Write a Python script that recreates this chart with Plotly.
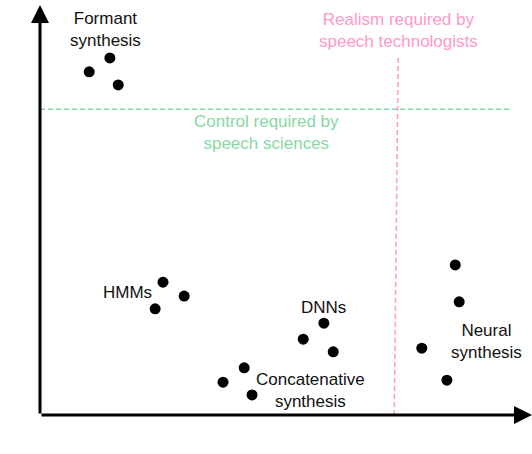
import plotly.graph_objects as go

# Data (realism, control) on an abstract 0-10 scale
formant_x = [1.0, 1.42, 1.59]
formant_y = [8.37, 8.71, 8.05]
hmm_x = [2.50, 2.93, 2.34]
hmm_y = [3.24, 2.90, 2.59]
dnn_x = [5.77, 5.35, 5.96]
dnn_y = [2.24, 1.85, 1.54]
concat_x = [4.15, 3.72, 4.31]
concat_y = [1.15, 0.80, 0.49]
neural_x = [8.44, 8.52, 7.76, 8.27]
neural_y = [3.66, 2.76, 1.63, 0.85]

control_threshold = 7.46
realism_threshold_top = 7.28
realism_threshold_bottom = 7.20

labels = ["Formant<br>synthesis", "HMMs", "DNNs", "Concatenative<br>synthesis", "Neural<br>synthesis"]
label_x = [1.34, 1.77, 5.77, 5.49, 9.07]
label_y = [9.40, 3.0, 2.61, 0.59, 1.80]

FONT = "Liberation Sans, Arial, sans-serif"
GREEN = "#88d8a4"
PINK = "#ff99c8"

fig = go.Figure()
all_x = formant_x + hmm_x + dnn_x + concat_x + neural_x
all_y = formant_y + hmm_y + dnn_y + concat_y + neural_y
fig.add_trace(go.Scatter(x=all_x, y=all_y, mode="markers",
                         marker=dict(size=11, color="black"), showlegend=False,
                         hoverinfo="skip", cliponaxis=False))

# Threshold lines
fig.add_shape(type="line", x0=0, x1=9.55, y0=control_threshold, y1=control_threshold,
              line=dict(color=GREEN, width=1.5, dash="5px,3px"))
fig.add_shape(type="line", x0=realism_threshold_top, x1=realism_threshold_bottom, y0=8.71, y1=0,
              line=dict(color=PINK, width=1.5, dash="5px,3px"))

# Axes with arrows
fig.add_annotation(x=10, y=0, ax=0, ay=0, xref="x", yref="y", axref="x", ayref="y",
                   showarrow=True, arrowhead=2, arrowsize=1.2, arrowwidth=3, arrowcolor="black", text="")
fig.add_annotation(x=0, y=10, ax=0, ay=0, xref="x", yref="y", axref="x", ayref="y",
                   showarrow=True, arrowhead=2, arrowsize=1.2, arrowwidth=3, arrowcolor="black", text="")

for t, x, y in zip(labels, label_x, label_y):
    fig.add_annotation(x=x, y=y, text=t, showarrow=False, xanchor="center", yanchor="middle",
                       font=dict(family=FONT, size=17, color="#111111"))

fig.add_annotation(x=7.28, y=9.38, text="Realism required by<br>speech technologists", showarrow=False,
                   xanchor="center", yanchor="middle", font=dict(family=FONT, size=17, color=PINK))
fig.add_annotation(x=4.61, y=6.88, text="Control required by<br>speech sciences", showarrow=False,
                   xanchor="center", yanchor="middle", font=dict(family=FONT, size=17, color=GREEN))

fig.add_annotation(x=4.94, y=-0.61, text="Realism", showarrow=False, xanchor="center", yanchor="middle",
                   font=dict(family=FONT, size=23, color="black"))
fig.add_annotation(x=-0.47, y=5.0, text="Control", showarrow=False, textangle=-90,
                   xanchor="center", yanchor="middle", font=dict(family=FONT, size=23, color="black"))

fig.update_xaxes(range=[0, 10], visible=False)
fig.update_yaxes(range=[0, 10], visible=False)
fig.update_layout(width=532, height=454, margin=dict(l=40, r=0, t=5, b=39),
                  plot_bgcolor="white", paper_bgcolor="white")
fig.write_html("out.html", config={"displayModeBar": False},
               post_script="document.body.style.margin='0';document.body.style.overflow='hidden';")
